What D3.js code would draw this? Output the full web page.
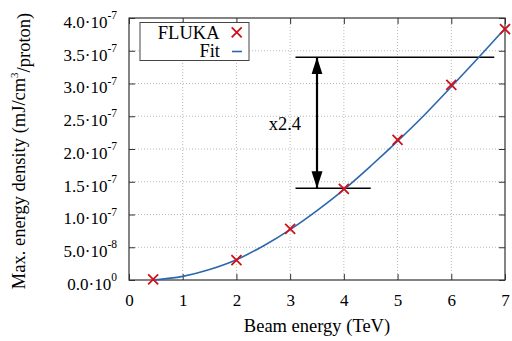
<!DOCTYPE html>
<html><head><meta charset="utf-8">
<script src="https://cdn.jsdelivr.net/npm/d3@7"></script>
<style>
html,body{margin:0;padding:0;background:#fff;}
svg{display:block;font-family:"Liberation Serif","DejaVu Serif",serif;}
</style></head>
<body>
<svg id="chart" width="512" height="341"></svg>
<script>
// ---- data ----
const flukaE = [0.45, 2, 3, 4, 5, 6, 7];
const flukaD = [0.1e-8, 3.05e-8, 7.8e-8, 1.39e-7, 2.14e-7, 2.98e-7, 3.83e-7];
const fitE = [0.45, 1, 1.5, 2, 2.5, 3, 3.5, 4, 4.5, 5, 5.5, 6, 6.5, 7];
const fitD = [0, 0.55e-8, 1.6e-8, 3.1e-8, 5.2e-8, 7.7e-8, 10.6e-8, 13.8e-8, 17.4e-8, 21.2e-8, 25.2e-8, 29.5e-8, 33.9e-8, 38.4e-8];
const xTicks = [0, 1, 2, 3, 4, 5, 6, 7];
const xTickLabels = ["0", "1", "2", "3", "4", "5", "6", "7"];
const yTicks = [0, 5e-8, 1e-7, 1.5e-7, 2e-7, 2.5e-7, 3e-7, 3.5e-7, 4e-7];
const yTickMant = ["0.0", "5.0", "1.0", "1.5", "2.0", "2.5", "3.0", "3.5", "4.0"];
const yTickExp = ["0", "-8", "-7", "-7", "-7", "-7", "-7", "-7", "-7"];
const ratioLow = 1.4e-7, ratioHigh = 3.4e-7, ratioE = 3.5;
const lowLineE = [3.1, 4.5], highLineE = [3.1, 6.8];
const ratioLabel = "x2.4", ratioLabelE = 2.6, ratioLabelD = 2.29e-7;

// ---- layout ----
const W = 512, H = 341;
const m = {l: 129, r: 7, t: 18, b: 61};
const svg = d3.select("#chart");
const x = d3.scaleLinear().domain([0, 7]).range([m.l, W - m.r]);
const y = d3.scaleLinear().domain([0, 4e-7]).range([H - m.b, m.t]);
const red = "#d0101a", blue = "#2a67ad";

// grid
const g = svg.append("g");
g.selectAll(".gx").data(xTicks.slice(1, -1)).enter().append("line")
  .attr("x1", d => x(d)).attr("x2", d => x(d)).attr("y1", y(0)).attr("y2", y(4e-7))
  .attr("stroke", "#b8b8b8").attr("stroke-width", 1).attr("stroke-dasharray", "1,2");
g.selectAll(".gy").data(yTicks.slice(1, -1)).enter().append("line")
  .attr("y1", d => y(d)).attr("y2", d => y(d)).attr("x1", x(0)).attr("x2", x(7))
  .attr("stroke", "#b8b8b8").attr("stroke-width", 1).attr("stroke-dasharray", "1,2");

// axes with inward ticks
const fontTick = 17;
const ax = svg.append("g").attr("transform", `translate(0,${y(0)})`)
  .call(d3.axisBottom(x).tickValues(xTicks).tickFormat((d, i) => xTickLabels[i])
    .tickSize(-6).tickPadding(14).tickSizeOuter(0));
ax.selectAll("text").attr("font-size", fontTick).attr("font-family", "Liberation Serif").attr("fill", "#000");
const axT = svg.append("g").attr("transform", `translate(0,${y(4e-7)})`)
  .call(d3.axisTop(x).tickValues(xTicks).tickSize(-6).tickFormat("").tickSizeOuter(0));
const ay = svg.append("g").attr("transform", `translate(${x(0)},0)`)
  .call(d3.axisLeft(y).tickValues(yTicks).tickSize(-6).tickPadding(12).tickSizeOuter(0));
ay.selectAll(".tick text").each(function(d, i) {
  const t = d3.select(this).text("").attr("font-size", fontTick)
    .attr("font-family", "Liberation Serif").attr("fill", "#000").attr("dy", "0.55em");
  t.append("tspan").text(yTickMant[i] + "·10");
  t.append("tspan").text(yTickExp[i]).attr("font-size", 11.5).attr("dy", "-0.75em");
});
const ayR = svg.append("g").attr("transform", `translate(${x(7)},0)`)
  .call(d3.axisRight(y).tickValues(yTicks).tickSize(-6).tickFormat("").tickSizeOuter(0));
[ax, axT, ay, ayR].forEach(a => {
  a.select(".domain").remove();
  a.selectAll(".tick line").attr("stroke", "#333");
});
// frame
svg.append("rect").attr("x", x(0)).attr("y", y(4e-7)).attr("width", x(7) - x(0)).attr("height", y(0) - y(4e-7))
  .attr("fill", "none").attr("stroke", "#333").attr("stroke-width", 1.2);

// ratio annotation
svg.append("defs").append("marker").attr("id", "ah")
  .attr("markerUnits", "userSpaceOnUse").attr("viewBox", "0 0 17 12")
  .attr("refX", 17).attr("refY", 6).attr("markerWidth", 17).attr("markerHeight", 12)
  .attr("orient", "auto-start-reverse")
  .append("path").attr("d", "M0,0.5L17,6L0,11.5Z").attr("fill", "#000");
svg.append("line").attr("x1", x(highLineE[0])).attr("x2", x(highLineE[1]))
  .attr("y1", y(ratioHigh)).attr("y2", y(ratioHigh)).attr("stroke", "#000").attr("stroke-width", 1.5);
svg.append("line").attr("x1", x(lowLineE[0])).attr("x2", x(lowLineE[1]))
  .attr("y1", y(ratioLow)).attr("y2", y(ratioLow)).attr("stroke", "#000").attr("stroke-width", 1.5);
svg.append("line").attr("x1", x(ratioE)).attr("x2", x(ratioE))
  .attr("y1", y(ratioLow)).attr("y2", y(ratioHigh)).attr("stroke", "#000").attr("stroke-width", 2.2)
  .attr("marker-start", "url(#ah)").attr("marker-end", "url(#ah)");
svg.append("text").attr("x", x(ratioLabelE)).attr("y", y(ratioLabelD))
  .attr("font-size", 18.5).text(ratioLabel);

// fit curve
const fit = fitE.map((e, i) => [e, fitD[i]]);
svg.append("path").datum(fit)
  .attr("d", d3.line().x(d => x(d[0])).y(d => y(d[1])).curve(d3.curveMonotoneX))
  .attr("fill", "none").attr("stroke", blue).attr("stroke-width", 1.6);

// FLUKA markers
const s = 5;
const pts = svg.append("g");
flukaE.forEach((e, i) => {
  const cx = x(e), cy = y(flukaD[i]);
  pts.append("path").attr("d", `M${cx - s},${cy - s}L${cx + s},${cy + s}M${cx - s},${cy + s}L${cx + s},${cy - s}`)
    .attr("stroke", red).attr("stroke-width", 1.8).attr("fill", "none");
});

// legend
const lg = svg.append("g");
lg.append("rect").attr("x", 140).attr("y", 22.5).attr("width", 109).attr("height", 38)
  .attr("fill", "#fff").attr("stroke", "#444").attr("stroke-width", 1);
lg.append("text").attr("x", 219.5).attr("y", 38.5).attr("text-anchor", "end").attr("font-size", 18.5).text("FLUKA");
lg.append("text").attr("x", 220).attr("y", 57).attr("text-anchor", "end").attr("font-size", 18.5).text("Fit");
const lx = 236.7, ly = 32.3;
lg.append("path").attr("d", `M${lx - s},${ly - s}L${lx + s},${ly + s}M${lx - s},${ly + s}L${lx + s},${ly - s}`)
  .attr("stroke", red).attr("stroke-width", 1.8);
lg.append("line").attr("x1", 232).attr("x2", 242).attr("y1", 51.5).attr("y2", 51.5)
  .attr("stroke", blue).attr("stroke-width", 1.6);

// axis labels
svg.append("text").attr("x", (x(0) + x(7)) / 2).attr("y", 332).attr("text-anchor", "middle")
  .attr("font-size", 18.5).text("Beam energy (TeV)");
const yl = svg.append("text").attr("transform", `translate(25,${(y(0) + y(4e-7)) / 2 + 2}) rotate(-90)`)
  .attr("text-anchor", "middle").attr("font-size", 18.5);
yl.append("tspan").text("Max. energy density (mJ/cm");
yl.append("tspan").text("3").attr("font-size", 11).attr("dy", "-0.6em");
yl.append("tspan").text("/proton)").attr("dy", "0.6em");
</script>
</body></html>
